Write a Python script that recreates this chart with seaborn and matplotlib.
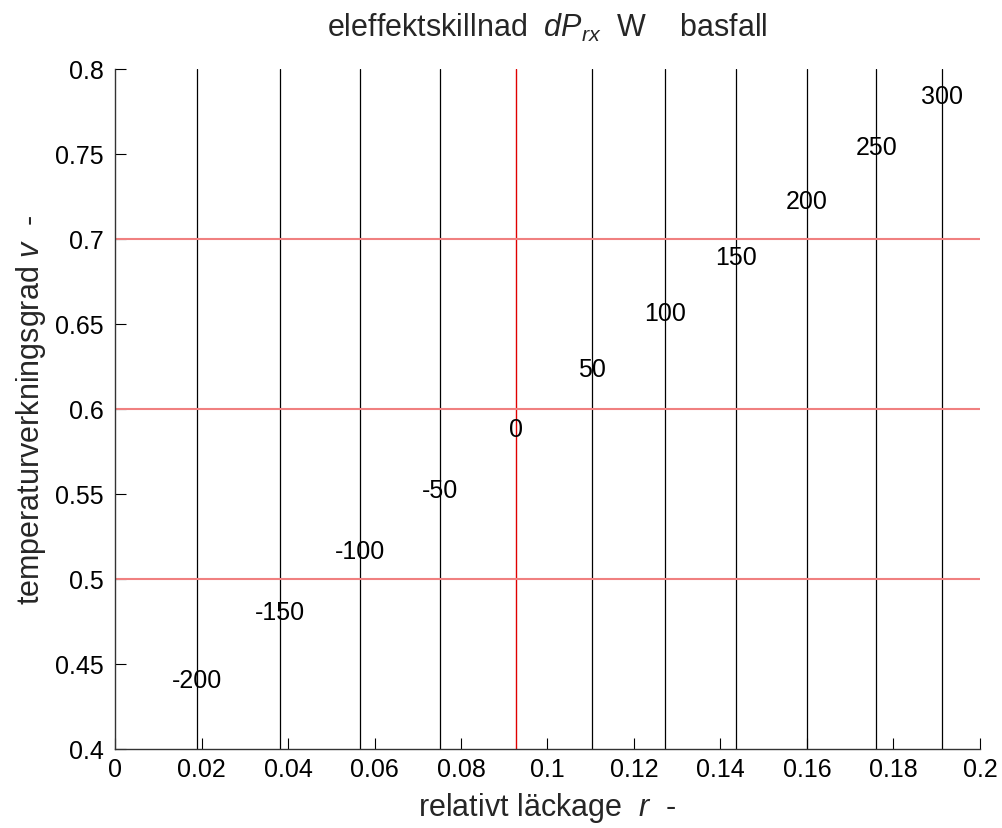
import numpy as np
import pandas as pd
import matplotlib
matplotlib.use("Agg")
import matplotlib.pyplot as plt
import seaborn as sns
from matplotlib.ticker import FuncFormatter

# ---- data ----
levels = [-200, -150, -100, -50, 0, 50, 100, 150, 200, 250, 300]
level_r = [0.0190, 0.0381, 0.0567, 0.0752, 0.0927, 0.1103, 0.1271, 0.1436, 0.1599, 0.1760, 0.1912]
label_v = [0.4406, 0.4806, 0.5165, 0.5524, 0.5882, 0.6235, 0.6565, 0.6894, 0.7224, 0.7541, 0.7841]
ref_v = [0.5, 0.6, 0.7]
x_ticks = [0, 0.02, 0.04, 0.06, 0.08, 0.1, 0.12, 0.14, 0.16, 0.18, 0.2]
y_ticks = [0.4, 0.45, 0.5, 0.55, 0.6, 0.65, 0.7, 0.75, 0.8]
v_range = [0.4, 0.8]
r_range = [0.0, 0.2]

sns.set_theme(style="ticks")
plt.rcParams['font.family'] = ['Liberation Sans', 'DejaVu Sans']
plt.rcParams['mathtext.fontset'] = 'custom'
plt.rcParams['mathtext.it'] = 'Liberation Sans:italic'
plt.rcParams['mathtext.rm'] = 'Liberation Sans'

fig = plt.figure(figsize=(10.03, 8.29), dpi=100)
ax = fig.add_axes([0.1147, 0.0953, 0.977 - 0.1147, 0.9156 - 0.0953])

# contour lines (vertical) as long-form data
rows = []
for lev, r in zip(levels, level_r):
    for v in v_range:
        rows.append({"r": r, "v": v, "level": lev})
df = pd.DataFrame(rows)
df_black = df[df.level != 0]
df_zero = df[df.level == 0]

sns.lineplot(data=df_black, x="r", y="v", units="level", estimator=None, sort=False,
             color="black", lw=0.9, ax=ax)
sns.lineplot(data=df_zero, x="r", y="v", units="level", estimator=None, sort=False,
             color="#e00000", lw=1.0, ax=ax)

# horizontal reference lines
hrows = []
for v in ref_v:
    for r in r_range:
        hrows.append({"r": r, "v": v, "ref": v})
dfh = pd.DataFrame(hrows)
sns.lineplot(data=dfh, x="r", y="v", units="ref", estimator=None, sort=False,
             color="#f08080", lw=1.5, ax=ax)

# contour labels
for lev, r, v in zip(levels, level_r, label_v):
    ax.text(r, v, f"{lev}", ha="center", va="center", fontsize=18, color="black")

ax.set_xlim(r_range)
ax.set_ylim(v_range)
ax.set_xticks(x_ticks)
ax.set_yticks(y_ticks)
fmt = FuncFormatter(lambda x, p: f"{x:g}")
ax.xaxis.set_major_formatter(fmt)
ax.yaxis.set_major_formatter(fmt)
ax.tick_params(direction="in", length=8, width=0.8, labelsize=18, colors="black")
ax.tick_params(axis="y", pad=8)
ax.tick_params(axis="x", pad=6)
for s in ["top", "right"]:
    ax.spines[s].set_visible(False)
for s in ["left", "bottom"]:
    ax.spines[s].set_color("#333333")
    ax.spines[s].set_linewidth(1.0)

ax.set_xlabel(r"relativt läckage  $r$  -", fontsize=22, va="center")
ax.xaxis.set_label_coords(0.5, -0.086)
ax.set_ylabel(r"temperaturverkningsgrad $v$  -", fontsize=22, va="center")
ax.yaxis.set_label_coords(-0.097, 0.5)
ax.set_title(r"eleffektskillnad  $dP_{rx}$  W    basfall", fontsize=22, pad=24)

fig.savefig("out.png", dpi=100)
